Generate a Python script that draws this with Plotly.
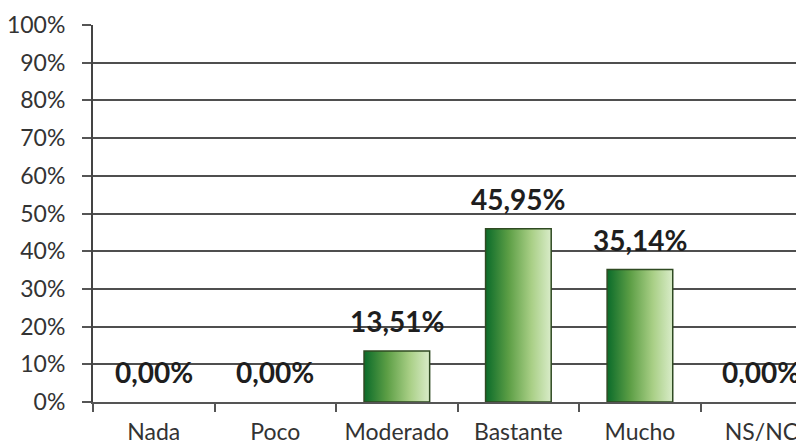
import plotly.graph_objects as go

categories = ["Nada", "Poco", "Moderado", "Bastante", "Mucho", "NS/NC"]
values = [0.00, 0.00, 13.51, 45.95, 35.14, 0.00]
labels = ["0,00%", "0,00%", "13,51%", "45,95%", "35,14%", "0,00%"]
y_ticks = [0, 10, 20, 30, 40, 50, 60, 70, 80, 90, 100]
y_ticktext = [f"{v}%" for v in y_ticks]

half_w = 0.27
grad = [[0.0, "#0b6b2a"], [0.35, "#5c9e45"], [0.7, "#a9cf86"], [1.0, "#d9ecc9"]]

fig = go.Figure()
for i, v in enumerate(values):
    if v <= 0:
        continue
    fig.add_trace(go.Scatter(
        x=[i - half_w, i + half_w, i + half_w, i - half_w, i - half_w],
        y=[0, 0, v, v, 0],
        mode="lines",
        fill="toself",
        fillgradient=dict(type="horizontal", colorscale=grad),
        line=dict(color="#2f4a22", width=1.5),
        hoverinfo="skip",
        showlegend=False,
    ))

for i, (v, t) in enumerate(zip(values, labels)):
    fig.add_annotation(
        x=i, y=v, text=t, showarrow=False,
        xanchor="center", yanchor="bottom", yshift=11,
        font=dict(family="Lato", size=28, color="#1e1e1e", weight="bold"),
    )

fig.update_layout(
    width=796, height=438,
    margin=dict(l=85, r=0, t=17, b=44),
    paper_bgcolor="white", plot_bgcolor="white",
    font=dict(family="Lato", color="#333"),
    xaxis=dict(
        range=[-0.5, 5.35],
        automargin=False,
        tickmode="array",
        tickvals=list(range(len(categories))),
        ticktext=categories,
        ticks="",
        showgrid=False, zeroline=False,
        showline=True, linecolor="#555", linewidth=2,
        tickfont=dict(size=23, color="#333"),
        ticklabelstandoff=8,
        minor=dict(tick0=0.5, dtick=1, ticks="outside", ticklen=8,
                   tickcolor="#555", tickwidth=2, showgrid=False),
    ),
    yaxis=dict(
        range=[0, 100],
        automargin=False,
        tickmode="array",
        tickvals=y_ticks,
        ticktext=y_ticktext,
        ticks="outside", ticklen=9, tickcolor="#555", tickwidth=2,
        showgrid=True, gridcolor="#4f4f4f", gridwidth=2,
        zeroline=False,
        showline=True, linecolor="#444", linewidth=2,
        tickfont=dict(size=23, color="#333"),
        ticklabelstandoff=12,
    ),
)

fig.write_html("out.html")
